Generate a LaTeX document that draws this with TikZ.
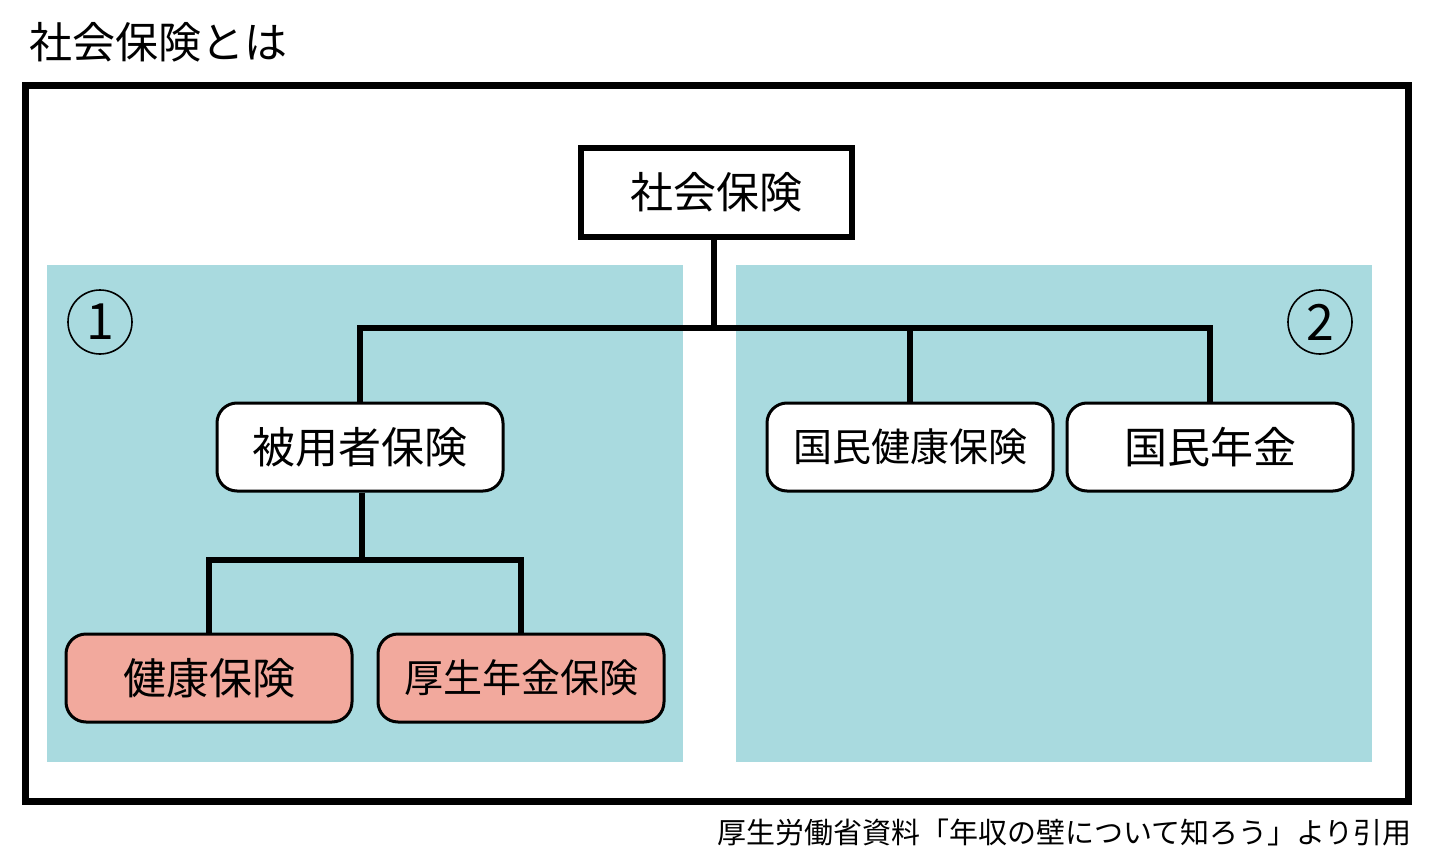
\documentclass[tikz,border=0pt]{standalone}
\usepackage{fontspec}
\newfontfamily\cjk{Noto Sans CJK JP}
\definecolor{panelteal}{HTML}{A9DADF}
\definecolor{leafpink}{HTML}{F2A99D}
\tikzset{
	topbox/.style={draw, line width=3pt, fill=white, minimum width=135.5pt, minimum height=44.5pt, inner sep=0pt},
	midbox/.style={draw, line width=1.5pt, rounded corners=10pt, fill=white, minimum width=143pt, minimum height=44pt, inner sep=0pt},
	leafbox/.style={midbox, fill=leafpink},
	branch/.style={line width=3pt},
	panel/.style={fill=panelteal, draw=none},
	numcircle/.style={circle, draw, line width=0.8pt, minimum size=32pt, inner sep=0pt}
}
\newcommand{\bigtxt}{\cjk\fontsize{21.5pt}{24pt}\selectfont}
\newcommand{\midtxt}{\cjk\fontsize{19.5pt}{22pt}\selectfont}
\begin{document}
\begin{tikzpicture}[x=0.5pt, y=-0.5pt]
		\useasboundingbox (0,0) rectangle (1436,867);
		\node[anchor=west, inner sep=0pt](title) at (29,42) {\bigtxt 社会保険とは};
		\draw[line width=3.5pt] (25.5,85.5) rectangle (1408.5,801.5);
		\path[panel] (47,265) rectangle (683,762);
		\path[panel] (736,265) rectangle (1372,762);
		\node[numcircle](one) at (100,322) {\cjk\fontsize{25pt}{28pt}\selectfont 1};
		\node[numcircle](two) at (1320,322) {\cjk\fontsize{25pt}{28pt}\selectfont 2};
		\node[topbox](shakai) at (716.5,192.5) {\bigtxt 社会保険};
		\node[midbox](hiyo) at (360,447) {\bigtxt 被用者保険};
		\node[midbox](kokuho) at (910,447) {\midtxt 国民健康保険};
		\node[midbox](kokunen) at (1210,447) {\bigtxt 国民年金};
		\node[leafbox](kenpo) at (209,678) {\bigtxt 健康保険};
		\node[leafbox](kosei) at (521,678) {\midtxt 厚生年金保険};
		\coordinate (j1) at (714,328);
		\coordinate (j2) at (362,560);
		\draw[branch] (shakai.south -| j1) -- (j1);
		\draw[branch] (hiyo.north) |- (kokunen.north |- j1) -- (kokunen.north);
		\draw[branch] (kokuho.north) -- (kokuho.north |- j1);
		\draw[branch] (hiyo.south -| j2) -- (j2);
		\draw[branch] (kenpo.north) |- (kosei.north |- j2) -- (kosei.north);
		\node[anchor=east, inner sep=0pt](source) at (1412,832) {\cjk\fontsize{14.5pt}{17pt}\selectfont 厚生労働省資料「年収の壁について知ろう」より引用};
	\end{tikzpicture}
\end{document}
